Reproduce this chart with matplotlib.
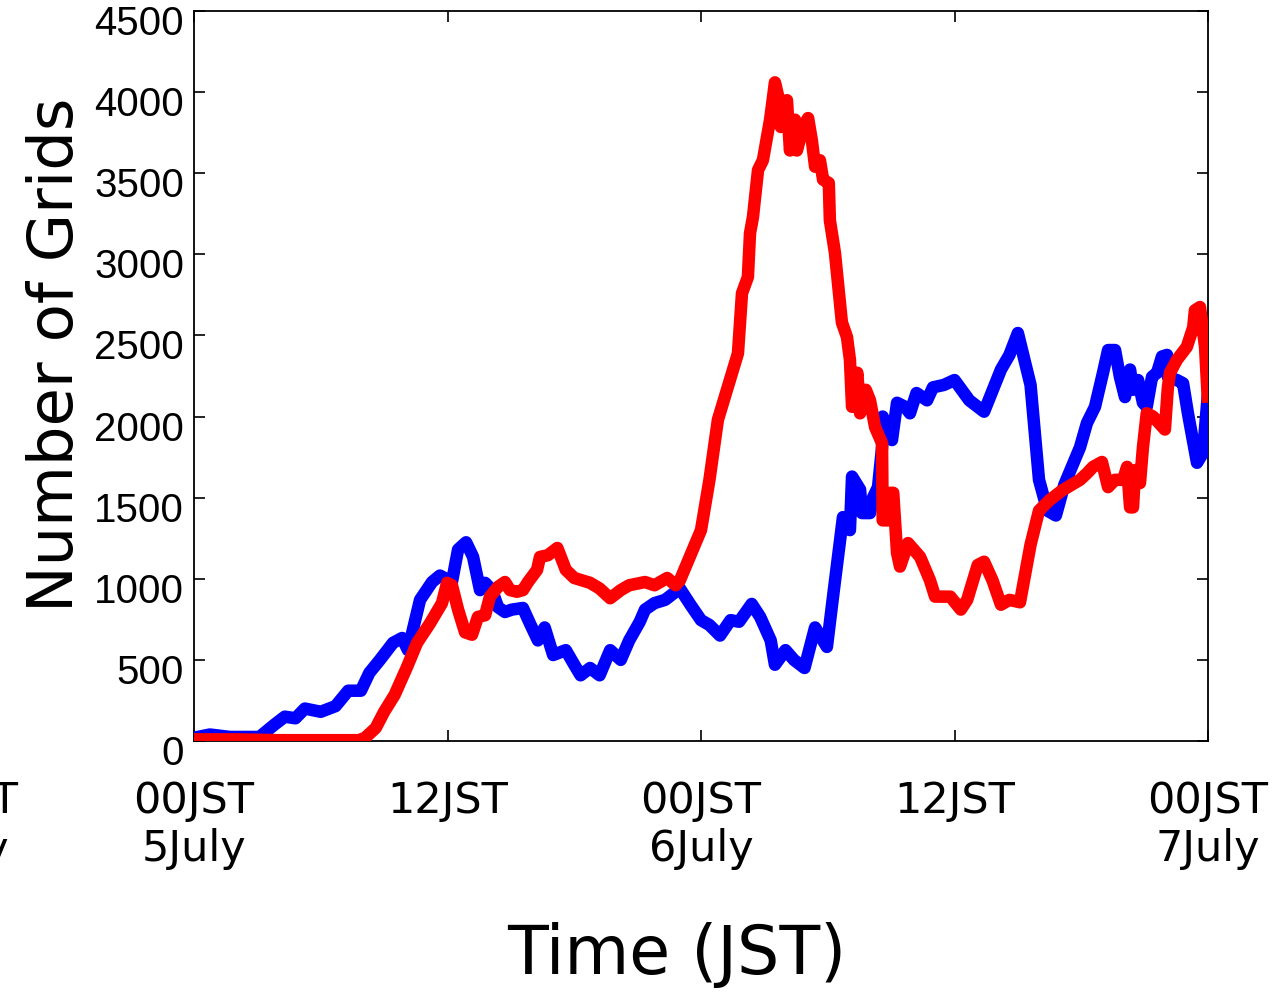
import matplotlib
matplotlib.use("Agg")
import matplotlib.pyplot as plt
import matplotlib.transforms as mtransforms

# ============================================================
# DATA (hours since 00JST 5 July)
# ============================================================

blue_hours = [0, 0.75, 1.7, 3.1, 3.8, 4.3, 4.8, 5.25, 6.0, 6.7, 7.3, 7.9, 8.3,
              8.8, 9.42, 9.85, 10.13, 10.7, 11.27, 11.64, 12.21, 12.5, 12.88, 13.21,
              13.54, 13.78, 14.11, 14.39, 14.72, 15.05, 15.57, 15.9, 16.28,
              16.6, 17.0, 17.6, 18.0, 18.3, 18.75, 19.2, 19.7, 20.2, 20.6, 21.1, 21.35,
              21.8, 22.3, 23.0, 23.5, 24.0, 24.4, 24.9, 25.4, 25.8, 26.4, 26.8, 27.3,
              27.5, 28.0, 28.4, 28.9, 29.4,
              29.96, 30.25, 30.72, 31.05, 31.15, 31.53, 31.62, 32.0, 32.14, 32.38,
              32.57, 32.6, 33.04, 33.28, 33.66, 33.89, 34.2, 34.7, 34.98,
              35.5, 36.0, 36.7, 37.4, 38.2, 38.6, 39.0, 39.6, 40.0, 40.4, 40.8, 41.2,
              41.94, 42.27, 42.65, 43.03, 43.27, 43.6, 43.83, 44.07, 44.31, 44.45,
              44.69, 44.92, 45.1, 45.35, 45.59, 45.82, 46.06, 46.1, 46.53, 46.82,
              47.05, 47.48, 47.76, 48.0]
blue_grids = [20, 40, 25, 25, 100, 150, 140, 200, 180, 215, 310, 310, 420,
              500, 605, 635, 560, 870, 980, 1020, 980, 1180, 1225, 1135,
              930, 975, 930, 825, 795, 810, 820, 725, 620,
              700, 530, 560, 470, 405, 450, 405, 560, 500, 620, 735, 810,
              850, 870, 940, 840, 745, 715, 650, 745, 735, 845, 765, 620,
              470, 560, 500, 450, 700,
              580, 890, 1380, 1300, 1630, 1550, 1405, 1405, 1500, 1565,
              1810, 2000, 1855, 2085, 2060, 2020, 2145, 2100, 2180,
              2195, 2225, 2100, 2030, 2290, 2380, 2515, 2195, 1610, 1420, 1390, 1580,
              1810, 1960, 2060, 2270, 2410, 2410, 2245, 2120, 2290, 2165,
              2225, 2085, 2060, 2245, 2270, 2370, 2380, 2245, 2225, 2205,
              2020, 1715, 1775, 2145]

red_hours = [0, 2.0, 4.0, 6.0, 7.8, 8.1, 8.6, 9.0, 9.5, 10.08, 10.56, 11.17, 11.74,
             11.98, 12.21, 12.5, 12.83, 13.16, 13.44, 13.78, 14.01, 14.39, 14.72,
             14.96, 15.29, 15.57, 15.81, 16.24, 16.38, 16.75, 17.2, 17.6, 18.0,
             18.75, 19.2, 19.7, 20.2, 20.6, 21.35, 21.8, 22.4, 22.8, 23.0, 23.5,
             24.0, 24.4, 24.8, 25.37, 25.75, 25.94, 26.22, 26.32, 26.46, 26.7,
             26.93, 27.27, 27.5, 27.7, 27.78, 28.07, 28.21, 28.45, 28.54, 28.83,
             29.07, 29.25, 29.4, 29.63, 29.78, 30.05, 30.1, 30.34, 30.67, 30.91,
             31.05, 31.15, 31.4, 31.53, 31.8, 32.0, 32.24, 32.57, 32.6, 32.85,
             32.95, 33.1, 33.28, 33.42, 33.8, 34.37, 34.84, 35.08,
             35.8, 36.3, 36.6, 37.1, 37.4, 37.8, 38.2, 38.6, 39.1, 39.6, 40.0,
             40.5, 41.1, 41.94, 42.27, 42.56, 42.98, 43.27, 43.6, 43.98, 44.17,
             44.31, 44.45, 44.55, 44.78, 44.92, 45.1, 45.4, 45.96, 46.1, 46.2,
             46.53, 47.0, 47.3, 47.38, 47.62, 47.86, 48.0]
red_grids = [10, 10, 5, 5, 5, 20, 80, 180, 285, 455, 605, 725, 850,
             975, 960, 810, 670, 655, 765, 775, 890, 950, 980,
             930, 920, 930, 980, 1055, 1135, 1145, 1190, 1055, 1005,
             975, 940, 880, 930, 960, 980, 960, 1005, 960, 990, 1145,
             1300, 1610, 1980, 2225, 2390, 2760, 2860, 3130, 3230, 3520,
             3580, 3830, 4060, 3950, 3785, 3950, 3640, 3830, 3640, 3785,
             3840, 3700, 3540, 3580, 3460, 3440, 3210, 3010, 2580, 2490,
             2350, 2060, 2270, 2020, 2165, 2100, 1935, 1835, 1360, 1360,
             1530, 1530, 1160, 1075, 1220, 1135, 990, 890,
             890, 810, 870, 1085, 1105, 990, 840, 870, 855, 1210, 1420,
             1485, 1545, 1610, 1650, 1690, 1720, 1565, 1610, 1610, 1690,
             1440, 1440, 1670, 1590, 1810, 2020, 2000, 1920, 2180, 2270,
             2350, 2430, 2550, 2655, 2675, 2430, 2085]

y_ticks = list(range(0, 4501, 500))
tick_hours = [0, 12, 24, 36, 48]
tick_labels = ["00JST\n5July", "12JST", "00JST\n6July", "12JST", "00JST\n7July"]

# ============================================================
# FIGURE
# ============================================================

fig = plt.figure(figsize=(12.72, 9.92), dpi=100)
ax = fig.add_axes([194 / 1272, 1 - 741 / 992, (1208 - 194) / 1272, (741 - 11) / 992])

ax.plot(blue_hours, blue_grids, color="#0000ff", linewidth=9,
        solid_joinstyle="round", solid_capstyle="butt", zorder=3)
ax.plot(red_hours, red_grids, color="#ff0000", linewidth=9,
        solid_joinstyle="round", solid_capstyle="butt", zorder=4)

ax.set_xlim(0, 48)
ax.set_ylim(0, 4500)

# y tick labels drawn by hand: they sit a little below their ticks
ax.set_yticks(y_ticks)
ax.set_yticklabels([])
shift = mtransforms.ScaledTranslation(-10 / 100, -13 / 100, fig.dpi_scale_trans)
for v in y_ticks:
    ax.text(0, v, str(v), ha="right", va="center", fontsize=29,
            family="Liberation Sans", clip_on=False,
            transform=ax.get_yaxis_transform() + shift)

ax.set_xticks(tick_hours)
ax.set_xticklabels(tick_labels, family="DejaVu Sans", fontsize=31,
                   linespacing=1.2)

ax.tick_params(direction="in", length=8, width=1.2, top=True, right=True)
ax.tick_params(axis="x", pad=28)

for spine in ax.spines.values():
    spine.set_linewidth(1.3)

# clipped label from the previous day at the left border
ax.text(-11.2, -240, "00JST\n4July", ha="center", va="top", fontsize=31,
        family="DejaVu Sans", linespacing=1.2, clip_on=False)

fig.text(56 / 1272, 1 - 355 / 992, "Number of Grids", rotation=90,
         ha="center", va="center", fontsize=45, family="DejaVu Sans")
fig.text(677 / 1272, 1 - 955 / 992, "Time (JST)",
         ha="center", va="center", fontsize=48, family="DejaVu Sans")

fig.savefig("out.png", dpi=100)
